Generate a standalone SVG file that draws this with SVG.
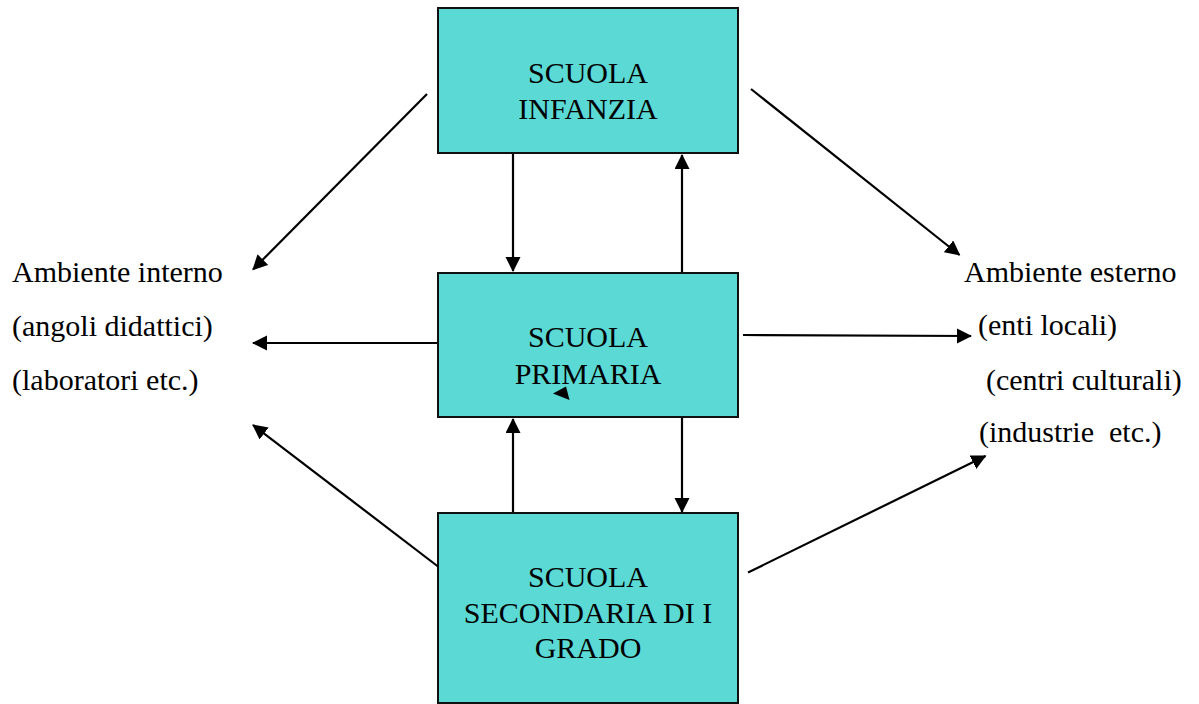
<svg xmlns="http://www.w3.org/2000/svg" width="1199" height="704" viewBox="0 0 1199 704">
<style>
  .box { fill: #5bd9d5; stroke: #111; stroke-width: 2; }
  text { font-family: 'Liberation Serif', 'Times New Roman', serif; font-size: 30px; fill: #000; }
  .bt { text-anchor: middle; }
  .cn { stroke: #000; stroke-width: 2.2; fill: none; marker-end: url(#ah); }
</style>
<defs>
  <marker id="ah" markerUnits="userSpaceOnUse" markerWidth="16" markerHeight="16" refX="14" refY="7.5" orient="auto">
    <path d="M0,0 L15,7.5 L0,15 Z" fill="#000"/>
  </marker>
</defs>
<rect width="1199" height="704" fill="#fff"/>

<g id="scuola-infanzia">
  <rect class="box" x="438" y="8" width="300" height="145"/>
  <text class="bt" x="588" y="83">SCUOLA</text>
  <text class="bt" x="588" y="119">INFANZIA</text>
</g>

<g id="scuola-primaria">
  <rect class="box" x="438" y="273" width="300" height="144"/>
  <text class="bt" x="588" y="347">SCUOLA</text>
  <text class="bt" x="588" y="384">PRIMARIA</text>
</g>

<g id="scuola-secondaria">
  <rect class="box" x="438" y="513" width="300" height="190"/>
  <text class="bt" x="588" y="587">SCUOLA</text>
  <text class="bt" x="588" y="623">SECONDARIA DI I</text>
  <text class="bt" x="588" y="658">GRADO</text>
</g>

<g id="ambiente-interno">
  <text x="12" y="282">Ambiente interno</text>
  <text x="12" y="336">(angoli didattici)</text>
  <text x="12" y="390">(laboratori etc.)</text>
</g>

<g id="ambiente-esterno">
  <text x="964" y="282">Ambiente esterno</text>
  <text x="978" y="335">(enti locali)</text>
  <text x="986" y="390">(centri culturali)</text>
  <text x="979" y="442" xml:space="preserve">(industrie  etc.)</text>
</g>

<g id="connectors">
  <line class="cn" x1="427" y1="94" x2="253" y2="269.5"/>
  <line class="cn" x1="751" y1="89" x2="959.5" y2="255"/>
  <line class="cn" x1="513" y1="154" x2="513" y2="271"/>
  <line class="cn" x1="682" y1="272" x2="682" y2="155"/>
  <line class="cn" x1="437" y1="343" x2="253" y2="343"/>
  <line class="cn" x1="743" y1="335" x2="971" y2="336"/>
  <line class="cn" x1="513" y1="512" x2="513" y2="419"/>
  <line class="cn" x1="682" y1="418" x2="682" y2="512"/>
  <line class="cn" x1="438" y1="566.5" x2="253" y2="425"/>
  <line class="cn" x1="748" y1="572.5" x2="985.5" y2="456"/>
  <polygon points="553,393.5 566,386.5 569.5,400" fill="#000"/>
</g>
</svg>
